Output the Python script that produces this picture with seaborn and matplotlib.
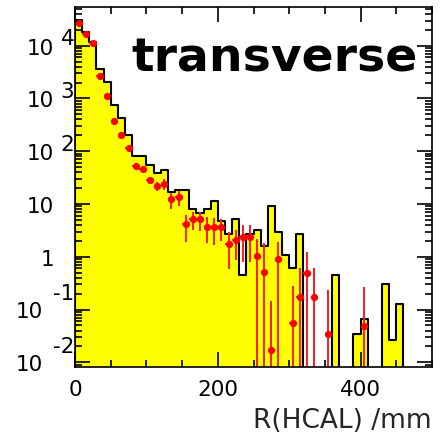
import numpy as np
import pandas as pd
import matplotlib
matplotlib.use("Agg")
import matplotlib.pyplot as plt
from matplotlib.ticker import MultipleLocator, LogLocator, NullFormatter
import seaborn as sns

# ---- data -------------------------------------------------------------
bin_edges = np.arange(0, 510, 10)          # R(HCAL) bins, 10 mm wide
bin_centers = bin_edges[:-1] + 5

# histogram (yellow) contents, one per bin
hist_counts = [31000, 17900, 11900, 3600, 2020, 750, 420, 200, 81, 81,
               56, 38, 44, 17, 18.8, 18.8, 8.2, 6.9, 8.0, 11.5,
               4.8, 2.75, 5.2, 0.46, 2.75, 3.2, 1.6, 9.0, 2.95, 1.1,
               0.62, 2.75, 0, 0, 0, 0, 0.45, 0, 0, 0.035,
               0.065, 0, 0, 0.31, 0.027, 0.126, 0, 0, 0, 0]

# data points (red) and their errors; nan = no point
point_values = [27500, 16700, 11400, 2700, 1120, 370, 202, 115, 52.8, 45.7,
                28.3, 22, 23.8, 12.2, 13.3, 4.1, 5.2, 5.1, 3.7, 3.6,
                3.6, 1.78, 2.06, 2.4, 2.4, 1.05, 0.52, 0.0168, 0.9, np.nan,
                0.056, 0.176, 0.49, 0.173, np.nan, 0.035, np.nan, np.nan, np.nan, np.nan,
                0.049, np.nan, np.nan, np.nan, np.nan, np.nan, np.nan, np.nan, np.nan, np.nan]
point_errors = [900, 700, 600, 250, 150, 50, 25, 15, 6, 5,
                4.5, 4.5, 5.5, 4, 4, 2.2, 2, 2, 1.9, 1.9,
                1.6, 1.2, 1.2, 1.6, 1.6, 1.1, 1.3, 0.13, 1.0, np.nan,
                0.22, 0.45, 0.74, 0.43, np.nan, 0.2, np.nan, np.nan, np.nan, np.nan,
                0.22, np.nan, np.nan, np.nan, np.nan, np.nan, np.nan, np.nan, np.nan, np.nan]

ytick_values = [1e-2, 1e-1, 1, 10, 1e2, 1e3, 1e4]
ytick_base = ["10", "10", "1", "10", "10", "10", "10"]
ytick_exp = ["-2", "-1", "", "", "2", "3", "4"]
xtick_labels = ["0", "200", "400"]

title_text = "transverse"
xlabel_text = "R(HCAL) /mm"

# ---- figure -----------------------------------------------------------
sns.set_theme(style="ticks")
plt.rcParams["font.family"] = ["DejaVu Sans"]

fig = plt.figure(figsize=(4.46, 4.35), dpi=100)
ax = fig.add_axes([75 / 446, 67 / 435, 357 / 446, 360 / 435])
ax.set_yscale("log")
ax.set_axisbelow(False)

df = pd.DataFrame({"R": bin_centers, "w": hist_counts})
sns.histplot(data=df, x="R", weights="w", binwidth=10, binrange=(0, 500),
             element="step", fill=True, color="#ffff00", edgecolor="black",
             linewidth=1.5, alpha=1, ax=ax)

ax.errorbar(bin_centers, point_values, yerr=point_errors, xerr=5,
            fmt="o", color="#ff0000", ecolor="#ff1a1a", markersize=4.2,
            elinewidth=1.4, capsize=0, zorder=5)

ax.set_xlim(0, 500)
ax.set_ylim(10 ** -2.089, 10 ** 4.734)

ax.set_xticks([0, 200, 400])
ax.set_xticklabels(xtick_labels)
ax.xaxis.set_minor_locator(MultipleLocator(50))
ax.set_yticks(ytick_values)
ax.set_yticklabels([""] * len(ytick_values))
ax.yaxis.set_minor_locator(LogLocator(base=10, subs=np.arange(2, 10), numticks=100))
ax.yaxis.set_minor_formatter(NullFormatter())

ax.tick_params(which="both", direction="in", top=True, right=True,
               width=1.2, color="black")
ax.tick_params(which="major", length=11)
ax.tick_params(which="minor", length=5.2)
ax.tick_params(axis="x", which="major", labelsize=15.5, pad=9,
               labelcolor="black")

for s in ax.spines.values():
    s.set_linewidth(1.2)
    s.set_color("black")
    s.set_zorder(10)

# ROOT-style y tick labels: "10" with exponent raised to its right
for v, b, e in zip(ytick_values, ytick_base, ytick_exp):
    neg = e.startswith("-")
    bx = -22.8 if neg else -15.0
    ax.annotate(b, xy=(0, v), xycoords=("axes fraction", "data"),
                xytext=(bx, -5.6), textcoords="offset points",
                ha="right", va="baseline", fontsize=15.5, color="black",
                annotation_clip=False)
    if e:
        ey = 7.3 if neg else 1.2
        ax.annotate(e, xy=(0, v), xycoords=("axes fraction", "data"),
                    xytext=(-0.5, ey), textcoords="offset points",
                    ha="right", va="baseline", fontsize=15.5, color="black",
                    annotation_clip=False)

ax.set_xlabel(xlabel_text, fontsize=19, loc="right")
ax.xaxis.label.set_va("baseline")
ax.xaxis.set_label_coords(1.0, -(428 - 368) / 360)
ax.set_ylabel("")

fig.text(274 / 446, (435 - 72) / 435, title_text, ha="center", va="baseline",
         fontsize=34, fontweight="bold", color="black")

fig.savefig("out.png", dpi=100, facecolor="white")
